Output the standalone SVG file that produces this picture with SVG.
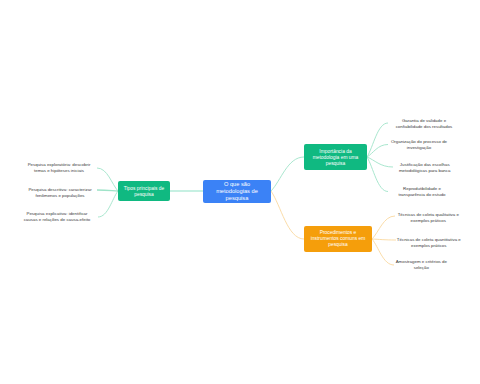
<svg xmlns="http://www.w3.org/2000/svg" width="480" height="384" viewBox="0 0 480 384">
<style>
.bg{fill:#ffffff}
.node text{font-family:"Liberation Sans",Arial,sans-serif;fill:#ffffff;text-anchor:middle}
.main text{font-size:5.7px}
.sub text{font-size:4.9px}
.leaf text{font-family:"Liberation Sans",Arial,sans-serif;font-size:4.4px;fill:#3a3a3a;text-anchor:middle}
.cg{fill:none;stroke:#9fe3c8;stroke-width:0.9}
.co{fill:none;stroke:#f9d89f;stroke-width:0.9}
</style>
<rect class="bg" x="0" y="0" width="480" height="384"/>
<g id="connectors">
  <path class="cg" d="M203,191 L170,191" style="stroke-width:1.6;stroke:#b3ebd9"/>
  <path class="cg" d="M271,191 C280.9,180.8 287.5,157 304,157"/>
  <path class="co" d="M271,191 C280.9,205.4 287.5,239 304,239"/>
  <path class="cg" d="M118,191 C111.7,184.1 107.5,168 97,168"/>
  <path class="cg" d="M118,191 C111.7,190.7 107.5,190 97,190" style="stroke-width:1.3"/>
  <path class="cg" d="M118,191 C112,198.8 108,217 98,217"/>
  <path class="cg" d="M367,157 C373.3,146.8 377.5,123 388,123"/>
  <path class="cg" d="M367,157 C373.3,153.3 377.5,144.5 388,144.5"/>
  <path class="cg" d="M367,157 C374.8,160 380,167 393,167"/>
  <path class="cg" d="M367,157 C373.3,167.4 377.5,191.5 388,191.5"/>
  <path class="co" d="M372,239 C378.9,232.1 383.5,216 395,216"/>
  <path class="co" d="M372,239 C379.2,239.3 384,240 396,240"/>
  <path class="co" d="M372,239 C378.6,246.8 383,265 394,265"/>
</g>
<g id="central" class="node main">
  <rect x="203" y="180" width="68" height="23" rx="2" fill="#3b82f6"/>
  <text x="237" y="185.7">O que são</text>
  <text x="237" y="193">metodologias de</text>
  <text x="237" y="200.3">pesquisa</text>
</g>
<g id="tipos" class="node sub">
  <rect x="118" y="181" width="52" height="20" rx="2" fill="#10b981"/>
  <text x="144" y="189.8">Tipos principais de</text>
  <text x="144" y="195.8">pesquisa</text>
</g>
<g id="importancia" class="node sub">
  <rect x="304" y="144" width="63" height="26" rx="2" fill="#10b981"/>
  <text x="335.5" y="152.8">Importância da</text>
  <text x="335.5" y="158.8">metodologia em uma</text>
  <text x="335.5" y="164.8">pesquisa</text>
</g>
<g id="procedimentos" class="node sub">
  <rect x="304" y="226" width="68" height="26" rx="2" fill="#f59e0b"/>
  <text x="338" y="234.3">Procedimentos e</text>
  <text x="338" y="240.3">instrumentos comuns em</text>
  <text x="338" y="246.3">pesquisa</text>
</g>
<g id="leaf-exploratoria" class="leaf">
  <text x="59" y="165.6">Pesquisa exploratória: descobrir</text>
  <text x="59" y="171.6">temas e hipóteses iniciais</text>
</g>
<g id="leaf-descritiva" class="leaf">
  <text x="60" y="190.6">Pesquisa descritiva: caracterizar</text>
  <text x="60" y="196.6">fenômenos e populações</text>
</g>
<g id="leaf-explicativa" class="leaf">
  <text x="57" y="215.1">Pesquisa explicativa: identificar</text>
  <text x="57" y="221.1">causas e relações de causa-efeito</text>
</g>
<g id="leaf-garantia" class="leaf">
  <text x="424" y="121.8">Garantia de validade e</text>
  <text x="424" y="127.6">confiabilidade dos resultados</text>
</g>
<g id="leaf-organizacao" class="leaf">
  <text x="419" y="143.3">Organização do processo de</text>
  <text x="419" y="149.3">investigação</text>
</g>
<g id="leaf-justificacao" class="leaf">
  <text x="424.7" y="165.6">Justificação das escolhas</text>
  <text x="424.7" y="171.6">metodológicas para banca</text>
</g>
<g id="leaf-reprodutibilidade" class="leaf">
  <text x="422" y="189.9">Reprodutibilidade e</text>
  <text x="422" y="195.9">transparência do estudo</text>
</g>
<g id="leaf-qualitativa" class="leaf">
  <text x="428.3" y="215.6">Técnicas de coleta qualitativa e</text>
  <text x="428.3" y="221.6">exemplos práticos</text>
</g>
<g id="leaf-quantitativa" class="leaf">
  <text x="428.8" y="240.8">Técnicas de coleta quantitativa e</text>
  <text x="428.8" y="246.6">exemplos práticos</text>
</g>
<g id="leaf-amostragem" class="leaf">
  <text x="421.3" y="262.8">Amostragem e critérios de</text>
  <text x="421.3" y="268.8">seleção</text>
</g>
</svg>
